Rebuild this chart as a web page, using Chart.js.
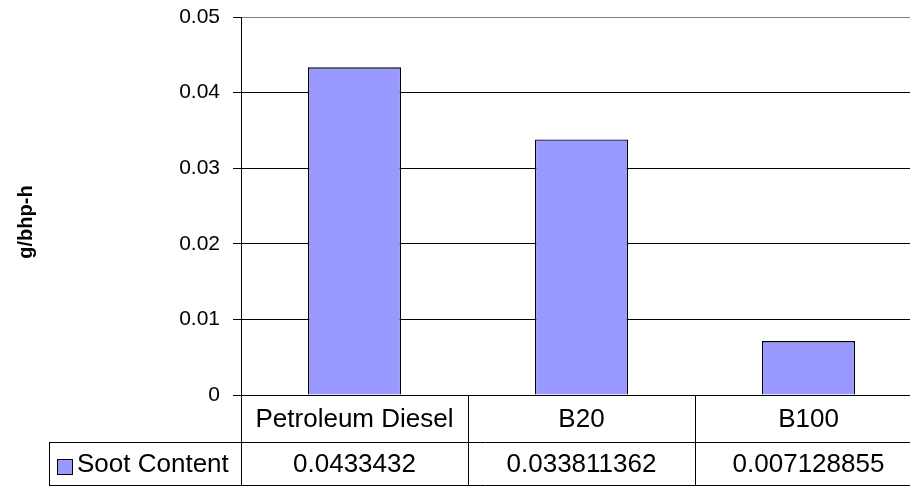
<!DOCTYPE html>
<html>
<head>
<meta charset="utf-8">
<script src="https://cdn.jsdelivr.net/npm/chart.js@4.4.0/dist/chart.umd.min.js"></script>
<style>
    html, body { margin: 0; padding: 0; background: #fff; overflow: hidden; }
    #wrap { width: 910px; height: 486px; overflow: hidden; }
</style>
</head>
<body>
<div id="wrap"><canvas id="chart" width="922" height="486"></canvas></div>
<script>
const categories = ['Petroleum Diesel', 'B20', 'B100'];
const seriesName = 'Soot Content';
const sootValues = [0.0433432, 0.033811362, 0.007128855];
const tableLabels = ['0.0433432', '0.033811362', '0.007128855'];
const yTitle = 'g/bhp-h';

const BAR_COLOR = '#9999FF';
const FONT = 'Arial, "Liberation Sans", sans-serif';

// data table below the plot, excel style
const dataTablePlugin = {
    id: 'dataTable',
    afterDraw(chart) {
        let ctx = chart.ctx;
        let area = chart.chartArea;
        let x = chart.scales.x;
        let half = (area.right - area.left) / categories.length / 2;
        let rowTop = area.bottom;
        let rowMid = 442;
        let rowBottom = 485;
        let tableLeft = 49;

        ctx.save();
        ctx.strokeStyle = '#000';
        ctx.lineWidth = 1;
        ctx.beginPath();
        ctx.moveTo(area.left, rowTop + 0.5);
        ctx.lineTo(area.right, rowTop + 0.5);
        ctx.moveTo(tableLeft, rowMid + 0.5);
        ctx.lineTo(area.right, rowMid + 0.5);
        ctx.moveTo(tableLeft, rowBottom + 0.5);
        ctx.lineTo(area.right, rowBottom + 0.5);
        ctx.moveTo(tableLeft + 0.5, rowMid);
        ctx.lineTo(tableLeft + 0.5, rowBottom);
        ctx.moveTo(area.left + 0.5, rowTop);
        ctx.lineTo(area.left + 0.5, rowBottom);
        categories.forEach((c, i) => {
            let edge = Math.round(x.getPixelForValue(i) + half) + 0.5;
            ctx.moveTo(edge, rowTop);
            ctx.lineTo(edge, rowBottom);
        });
        ctx.stroke();

        ctx.fillStyle = '#000';
        ctx.font = '26px ' + FONT;
        ctx.textAlign = 'center';
        ctx.textBaseline = 'middle';
        categories.forEach((c, i) => {
            let cx = x.getPixelForValue(i);
            ctx.fillText(c, cx, (rowTop + rowMid) / 2 + 1);
            ctx.fillText(tableLabels[i], cx, (rowMid + rowBottom) / 2 + 1);
        });

        // legend key
        ctx.fillStyle = BAR_COLOR;
        ctx.fillRect(57, 459, 15, 15);
        ctx.strokeRect(57.5, 459.5, 15, 15);
        ctx.fillStyle = '#000';
        ctx.textAlign = 'left';
        ctx.fillText(seriesName, 77, (rowMid + rowBottom) / 2 + 1);

        // y axis title
        ctx.translate(26, 222);
        ctx.rotate(-Math.PI / 2);
        ctx.font = 'bold 20px ' + FONT;
        ctx.textAlign = 'center';
        ctx.fillText(yTitle, 0, 0);
        ctx.restore();
    }
};

const config = {
    type: 'bar',
    data: {
        labels: categories,
        datasets: [{
            label: seriesName,
            data: sootValues,
            backgroundColor: BAR_COLOR,
            borderColor: '#000',
            borderWidth: 1.3,
            barPercentage: 0.41,
            categoryPercentage: 1
        }]
    },
    options: {
        responsive: false,
        animation: false,
        events: [],
        layout: {
            padding: { top: 17, bottom: 91, left: 0, right: 0 }
        },
        plugins: {
            legend: { display: false },
            tooltip: { enabled: false }
        },
        scales: {
            x: { display: false },
            y: {
                min: 0,
                max: 0.05,
                afterFit: (scale) => {
                    scale.width = 241;
                    // labels may overflow, the plot edges are fixed
                    scale.paddingTop = 0;
                    scale.paddingBottom = 0;
                },
                ticks: {
                    stepSize: 0.01,
                    padding: 13,
                    color: '#000',
                    font: { family: FONT, size: 21 },
                    callback: (v) => String(parseFloat(v.toFixed(2)))
                },
                grid: {
                    color: (c) => c.tick && c.tick.value >= 0.05 ? '#808080' : '#000',
                    tickColor: '#000',
                    tickLength: 8
                },
                border: { color: '#000', width: 1 }
            }
        }
    },
    plugins: [dataTablePlugin]
};

new Chart(document.getElementById('chart'), config);
</script>
</body>
</html>
